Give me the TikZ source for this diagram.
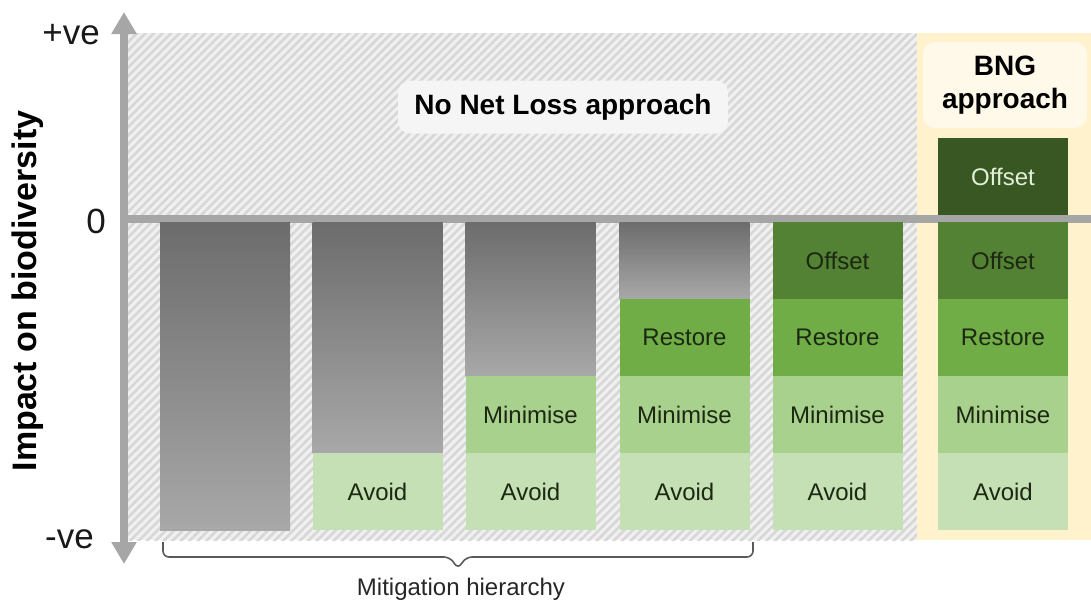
\documentclass[tikz,border=0pt]{standalone}
\usepackage{fontspec}
\setmainfont{Liberation Sans}
\usetikzlibrary{arrows.meta,patterns.meta}

\definecolor{axisgrey}{RGB}{166,166,166}
\definecolor{hatchbase}{RGB}{240,240,240}
\definecolor{hatchline}{RGB}{215,215,215}
\definecolor{bngyellow}{RGB}{255,242,204}
\definecolor{bngbox}{RGB}{255,249,234}
\definecolor{nnlbox}{RGB}{245,245,245}
\definecolor{avoidgreen}{RGB}{197,224,180}
\definecolor{minimisegreen}{RGB}{169,209,142}
\definecolor{restoregreen}{RGB}{112,173,71}
\definecolor{offsetgreen}{RGB}{84,130,53}
\definecolor{gaingreen}{RGB}{56,87,35}
\definecolor{gaintext}{RGB}{226,240,217}
\definecolor{bartext}{RGB}{28,40,18}
\definecolor{lossdark}{RGB}{108,108,108}
\definecolor{losslight}{RGB}{168,168,168}
\definecolor{bracegrey}{RGB}{90,90,90}

\begin{document}
\begin{tikzpicture}[x=1pt,y=-1pt,
  bar/.style={minimum width=130pt,minimum height=77pt,inner sep=0pt,outer sep=0pt,
    text=bartext,font=\fontsize{24}{28}\selectfont},
  avoid/.style={bar,fill=avoidgreen},
  minimise/.style={bar,fill=minimisegreen},
  restore/.style={bar,fill=restoregreen},
  offset/.style={bar,fill=offsetgreen},
  loss/.style={minimum width=130pt,inner sep=0pt,outer sep=0pt,
    top color=lossdark,bottom color=losslight},
  axisline/.style={draw=axisgrey,line width=7.5pt},
  ticklabel/.style={font=\fontsize{35}{40}\selectfont,text=black!90,inner sep=0pt},
  headline/.style={rounded corners=12pt,font=\bfseries\fontsize{28}{33}\selectfont,align=center,inner sep=0pt}]
\useasboundingbox (0,0) rectangle (1091,603);

% backgrounds
\path[fill=hatchbase,postaction={pattern={Lines[angle=45,distance=6pt,line width=2.6pt]},pattern color=hatchline}]
  (128,33) rectangle (917,540);
\fill[bngyellow] (917,33) rectangle (1091,540);

% axes
\coordinate (axTop) at (124,12);
\coordinate (axBot) at (124,564);
\coordinate (zeroL) at (124,219);
\coordinate (zeroR) at (1091,219);
\draw[axisline] (zeroL) -- (zeroR);
\draw[axisline,{Triangle[width=24pt,length=22pt]}-{Triangle[width=24pt,length=22pt]}] (axBot) -- (axTop);

\node[ticklabel,anchor=base east] (plus) at (100,44) {+ve};
\node[ticklabel,anchor=base east] (zero) at (106,233) {0};
\node[ticklabel,anchor=base east] (minus) at (94,548) {-ve};
\node[rotate=90,font=\bfseries\fontsize{34}{40}\selectfont] (ylab) at (28,291) {Impact on biodiversity};

% headings
\node[headline,fill=nnlbox,minimum width=330pt,minimum height=53pt] (nnl) at (563,107) {No Net Loss approach};
\node[headline,fill=bngbox,minimum width=164pt,minimum height=86pt] (bng) at (1005,85) {BNG\\approach};

% bar 1
\node[loss,minimum height=308pt] (loss1) at (225,376) {};
% bar 2
\node[loss,minimum height=231pt] (loss2) at (377.5,337.5) {};
\node[avoid] (avoid2) at (377.5,491.5) {Avoid};
% bar 3
\node[loss,minimum height=154pt] (loss3) at (530.5,299) {};
\node[minimise] (min3) at (530.5,414.5) {Minimise};
\node[avoid] (avoid3) at (530.5,491.5) {Avoid};
% bar 4
\node[loss,minimum height=77pt] (loss4) at (684.5,260.5) {};
\node[restore] (rest4) at (684.5,337.5) {Restore};
\node[minimise] (min4) at (684.5,414.5) {Minimise};
\node[avoid] (avoid4) at (684.5,491.5) {Avoid};
% bar 5
\node[offset] (off5) at (837.5,260.5) {Offset};
\node[restore] (rest5) at (837.5,337.5) {Restore};
\node[minimise] (min5) at (837.5,414.5) {Minimise};
\node[avoid] (avoid5) at (837.5,491.5) {Avoid};
% bar 6
\node[bar,fill=gaingreen,text=gaintext] (gain6) at (1003,176.5) {Offset};
\node[offset] (off6) at (1003,260.5) {Offset};
\node[restore] (rest6) at (1003,337.5) {Restore};
\node[minimise] (min6) at (1003,414.5) {Minimise};
\node[avoid] (avoid6) at (1003,491.5) {Avoid};

% bracket under the mitigation bars
\coordinate (braceL) at (163,542);
\coordinate (braceR) at (753,542);
\coordinate (braceTip) at (458,569);
\draw[bracegrey,line width=1.6pt,rounded corners=6pt]
  (braceL) |- ([xshift=-8pt,yshift=12pt]braceTip) -- (braceTip) -- ([xshift=8pt,yshift=12pt]braceTip) -| (braceR);
\node[font=\fontsize{24}{28}\selectfont,text=black!85] (mitig) at (461,589) {Mitigation hierarchy};
\end{tikzpicture}
\end{document}
